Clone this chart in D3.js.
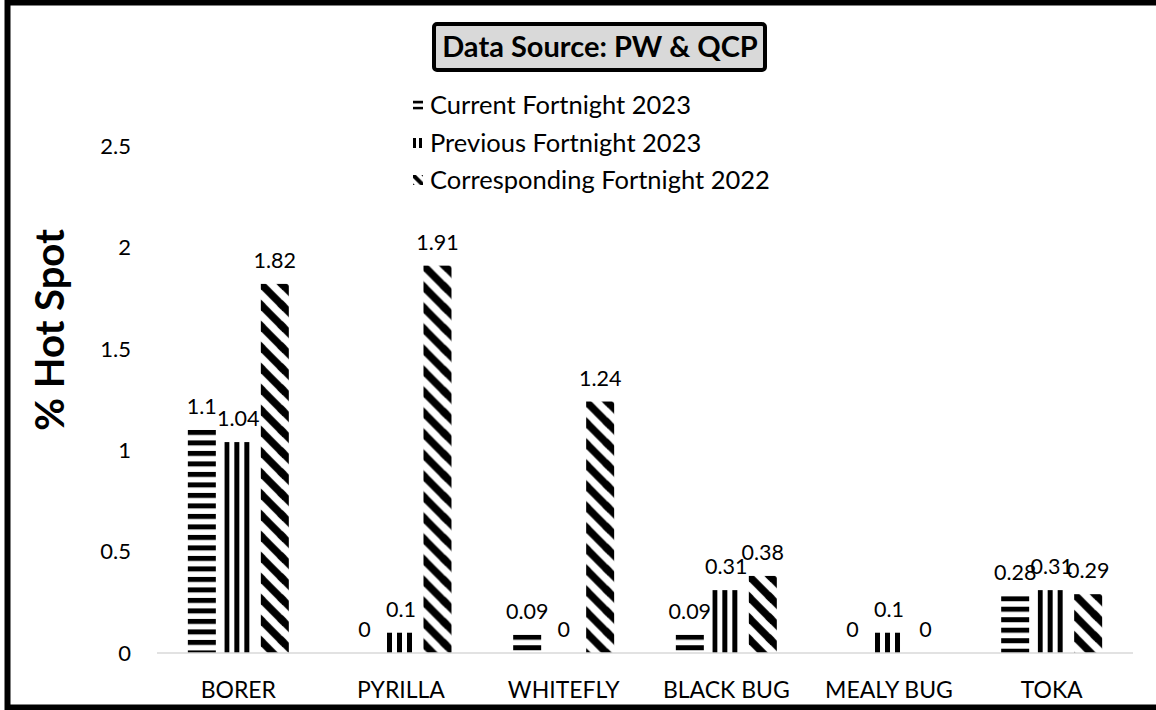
<!DOCTYPE html>
<html>
<head>
<meta charset="utf-8">
<script src="https://cdn.jsdelivr.net/npm/d3@7"></script>
<style>
  html, body { margin: 0; padding: 0; background: #fff; }
  svg { display: block; font-family: Lato, "Open Sans", sans-serif; }
</style>
</head>
<body>
<svg id="chart" width="1156" height="710"></svg>
<script>
const categories = ["BORER", "PYRILLA", "WHITEFLY", "BLACK BUG", "MEALY BUG", "TOKA"];
const seriesNames = ["Current Fortnight 2023", "Previous Fortnight 2023", "Corresponding Fortnight 2022"];
const currentFortnight2023 = [1.1, 0, 0.09, 0.09, 0, 0.28];
const previousFortnight2023 = [1.04, 0.1, 0, 0.31, 0.1, 0.31];
const correspondingFortnight2022 = [1.82, 1.91, 1.24, 0.38, 0, 0.29];
const yTicks = [0, 0.5, 1, 1.5, 2, 2.5];
const titleText = "Data Source: PW & QCP";
const yTitle = "% Hot Spot";

const seriesValues = [currentFortnight2023, previousFortnight2023, correspondingFortnight2022];
const patternKinds = ["hstripe", "vstripe", "diag"];

const svg = d3.select("#chart");
const defs = svg.append("defs");

const y = d3.scaleLinear().domain([0, 2.5]).range([653, 146]);
const x0 = d3.scaleBand().domain(categories).range([157, 1133]).paddingInner(0.327).paddingOuter(0.1635);
const x1 = d3.scaleBand().domain(d3.range(3)).range([0, x0.bandwidth()]).paddingInner(0.233).paddingOuter(0.1165);

// outer frame
svg.append("rect").attr("x", 7.5).attr("y", 2.5).attr("width", 1160).attr("height", 705)
  .attr("fill", "none").attr("stroke", "#000").attr("stroke-width", 6);

// Patterns
function makePattern(id, kind, ox, oy, scale) {
  const s = scale || 1;
  if (kind === "hstripe") {
    const p = defs.append("pattern").attr("id", id).attr("patternUnits", "userSpaceOnUse")
      .attr("x", ox).attr("y", oy).attr("width", 20).attr("height", 10.5 * s);
    p.append("rect").attr("width", 20).attr("height", 10.5 * s).attr("fill", "#fff");
    p.append("rect").attr("width", 20).attr("height", 5 * s).attr("fill", "#000");
  } else if (kind === "vstripe") {
    const p = defs.append("pattern").attr("id", id).attr("patternUnits", "userSpaceOnUse")
      .attr("x", ox).attr("y", oy).attr("width", 10 * s).attr("height", 20);
    p.append("rect").attr("width", 10 * s).attr("height", 20).attr("fill", "#fff");
    p.append("rect").attr("width", 5 * s).attr("height", 20).attr("fill", "#000");
  } else {
    const w = 21 * s;
    const p = defs.append("pattern").attr("id", id).attr("patternUnits", "userSpaceOnUse")
      .attr("x", ox).attr("y", oy).attr("width", w).attr("height", w);
    p.append("rect").attr("width", w).attr("height", w).attr("fill", "#fff");
    const sw = 7.5 * s;
    [[-w, 0], [0, 0], [w, 0], [0, -w], [0, w]].forEach(([dx, dy]) => {
      p.append("line").attr("x1", dx - 2).attr("y1", dy - 2).attr("x2", dx + w + 2).attr("y2", dy + w + 2)
        .attr("stroke", "#000").attr("stroke-width", sw);
    });
  }
}

// Bars
const barData = [];
categories.forEach((c, ci) => {
  seriesValues.forEach((vals, si) => {
    barData.push({ cat: c, si: si, ci: ci, value: vals[ci] });
  });
});

barData.forEach(d => {
  const bx = x0(d.cat) + x1(d.si);
  d.pid = "pat-" + d.ci + "-" + d.si;
  makePattern(d.pid, patternKinds[d.si], bx, y(d.value), 1);
});

svg.append("g").selectAll("rect").data(barData).join("rect")
  .attr("x", d => x0(d.cat) + x1(d.si))
  .attr("y", d => y(d.value))
  .attr("width", x1.bandwidth())
  .attr("height", d => y(0) - y(d.value))
  .attr("fill", d => `url(#${d.pid})`);

// baseline
svg.append("line").attr("x1", 157).attr("x2", 1133).attr("y1", y(0)).attr("y2", y(0))
  .attr("stroke", "#d9d9d9").attr("stroke-width", 1.5);

// data labels
svg.append("g").selectAll("text").data(barData).join("text")
  .attr("x", d => x0(d.cat) + x1(d.si) + x1.bandwidth() / 2)
  .attr("y", d => y(d.value) - 16)
  .attr("text-anchor", "middle")
  .attr("font-size", 21.5)
  .attr("fill", "#000")
  .text(d => d.value);

// y tick labels
svg.append("g").selectAll("text").data(yTicks).join("text")
  .attr("x", 131).attr("y", d => y(d))
  .attr("dy", "0.35em")
  .attr("text-anchor", "end")
  .attr("font-size", 22)
  .attr("fill", "#000")
  .text(d => d);

// x labels
svg.append("g").selectAll("text").data(categories).join("text")
  .attr("x", d => x0(d) + x0.bandwidth() / 2)
  .attr("y", 698)
  .attr("text-anchor", "middle")
  .attr("font-size", 23)
  .attr("fill", "#000")
  .text(d => d);

// y title
svg.append("text")
  .attr("transform", "translate(50,330) rotate(-90)")
  .attr("text-anchor", "middle")
  .attr("dy", "0.35em")
  .attr("font-size", 40)
  .attr("font-weight", "bold")
  .text(yTitle);

// title box
svg.append("rect").attr("x", 434).attr("y", 24).attr("width", 331).attr("height", 46)
  .attr("rx", 3).attr("fill", "#d9d9d9").attr("stroke", "#000").attr("stroke-width", 4);
svg.append("text").attr("x", 600).attr("y", 47).attr("dy", "0.35em")
  .attr("text-anchor", "middle").attr("font-size", 29).attr("font-weight", "bold")
  .text(titleText);

// legend
const legendRows = [105, 143, 180];
const legendScale = [0.6, 0.6, 0.55];
const legendH = [9, 10, 10];
const legendW = [10, 9, 10];
const legend = svg.append("g");
seriesNames.forEach((name, i) => {
  const ly = legendRows[i];
  const pid = "leg-" + i;
  makePattern(pid, patternKinds[i], 413, ly - legendH[i] / 2, legendScale[i]);
  legend.append("rect").attr("x", 413).attr("y", ly - legendH[i] / 2).attr("width", legendW[i]).attr("height", legendH[i])
    .attr("fill", `url(#${pid})`);
  legend.append("text").attr("x", 430).attr("y", ly).attr("dy", "0.35em")
    .attr("font-size", 25.5).attr("fill", "#000").text(name);
});
</script>
</body>
</html>
